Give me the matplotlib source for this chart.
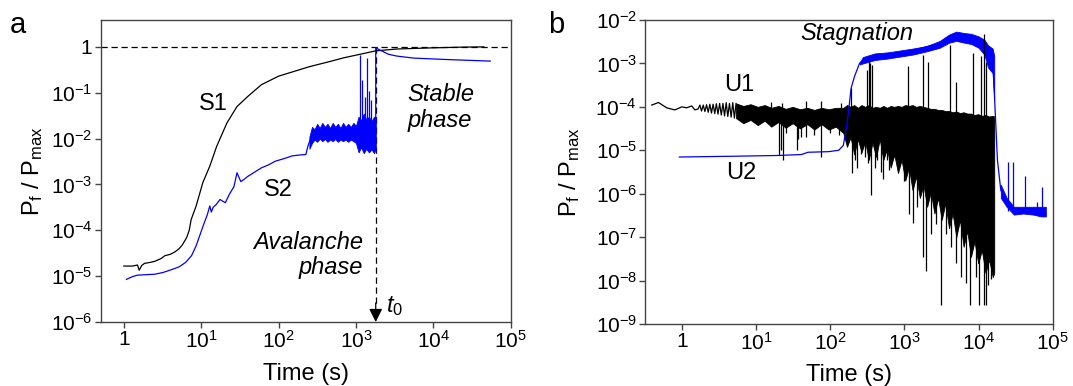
import math
import matplotlib
matplotlib.use("Agg")
import matplotlib.pyplot as plt
from matplotlib.ticker import LogLocator, NullLocator, FuncFormatter

plt.rcParams['font.family'] = ['Liberation Sans', 'DejaVu Sans']
plt.rcParams['mathtext.fontset'] = 'custom'
plt.rcParams['mathtext.rm'] = 'Liberation Sans'
plt.rcParams['mathtext.it'] = 'Liberation Sans:italic'

# ---------------- Panel a data ----------------
s1_t = [1.0, 1.3, 1.5, 1.58, 1.7, 1.85, 2.2, 2.5, 3.0, 3.4, 4.0, 4.6, 5.2, 5.7, 6.5, 7.0, 7.4,
        8.6, 10.5, 12.9, 15.8, 21.5, 29, 40, 60, 100, 250, 460, 700, 1130, 1800, 3400, 9100,
        24600, 45000]
s1_y = [1.66e-5, 1.66e-5, 1.75e-5, 1.35e-5, 1.7e-5, 1.9e-5, 2.0e-5, 2.1e-5, 2.4e-5, 2.8e-5,
        3.0e-5, 3.4e-5, 4.0e-5, 4.8e-5, 7e-5, 1.0e-4, 1.7e-4, 3.4e-4, 1.1e-3, 2.5e-3, 6.7e-3,
        0.022, 0.05, 0.083, 0.15, 0.23, 0.37, 0.48, 0.58, 0.69, 0.82, 0.9, 0.95, 0.99, 1.0]

s2_t = [1.08, 1.3, 1.5, 2.0, 2.5, 3.2, 4.2, 5.2, 6.3, 7.5, 8.6, 10.5, 12.0, 12.9, 13.5, 14.3,
        15.5, 17.5, 19, 20.5, 23, 26.5, 29, 32.5, 36, 40, 50, 60, 75, 90, 120, 150, 190, 225,
        240, 260]
s2_y = [8.5e-6, 9.8e-6, 1.05e-5, 1.08e-5, 1.1e-5, 1.2e-5, 1.4e-5, 1.6e-5, 2e-5, 2.8e-5,
        4.6e-5, 1.2e-4, 2.2e-4, 3.4e-4, 2.5e-4, 3.2e-4, 3.6e-4, 4.7e-4, 4.3e-4, 4e-4, 6e-4,
        9e-4, 1.8e-3, 1.15e-3, 1.3e-3, 1.5e-3, 1.9e-3, 2.3e-3, 2.7e-3, 3.2e-3, 3.7e-3,
        4.2e-3, 4.4e-3, 4.5e-3, 7e-3, 1.0e-2]

s2_band_t = [250, 270, 292, 315, 340, 367, 397, 428, 463, 500, 540, 583, 630, 680, 735, 793,
             857, 925, 1000, 1080, 1166, 1260, 1360, 1469, 1587, 1714, 1800]
s2_band_hi = [0.011, 0.018, 0.016, 0.021, 0.017, 0.022, 0.018, 0.021, 0.017, 0.022, 0.018,
              0.021, 0.017, 0.022, 0.018, 0.021, 0.018, 0.022, 0.019, 0.03, 0.025, 0.035,
              0.026, 0.03, 0.024, 0.03, 0.03]
s2_band_lo = [0.006, 0.008, 0.0095, 0.0085, 0.01, 0.0088, 0.0098, 0.0085, 0.0095, 0.0088,
              0.0098, 0.0085, 0.0095, 0.0088, 0.0095, 0.0085, 0.0095, 0.0088, 0.008, 0.005,
              0.0065, 0.0048, 0.006, 0.005, 0.0058, 0.0048, 0.006]

s2_spike_t = [1130, 1210, 1290, 1380, 1480, 1570]
s2_spike_y = [0.66, 0.19, 0.08, 0.56, 0.11, 0.07]

s2_tail_t = [1800, 1800, 2050, 2630, 3380, 5530, 14900, 54300]
s2_tail_y = [0.006, 0.96, 0.85, 0.69, 0.63, 0.57, 0.53, 0.49]

t0 = 1800

# ---------------- Panel b data ----------------
u1_early_t = [0.39, 0.48, 0.62, 0.80, 0.99, 1.15, 1.35, 1.49, 1.65, 1.74, 1.83, 1.93, 2.03,
              2.14, 2.25, 2.37, 2.49, 2.62, 2.76, 2.90, 3.05, 3.21, 3.38, 3.56, 3.74, 3.94,
              4.14, 4.36, 4.59, 4.83, 5.08, 5.35]
u1_early_y = [1.1e-4, 1.26e-4, 9.5e-5, 8.5e-5, 1.0e-4, 9.5e-5, 1.05e-4, 8.5e-5, 9.0e-5,
              1.1e-4, 8.0e-5, 1.1e-4, 7.8e-5, 1.12e-4, 7.5e-5, 1.15e-4, 7.2e-5, 1.15e-4,
              7.0e-5, 1.18e-4, 6.8e-5, 1.2e-4, 6.5e-5, 1.2e-4, 6.2e-5, 1.25e-4, 6.0e-5,
              1.2e-4, 5.8e-5, 1.25e-4, 5.5e-5, 1.2e-4]

u1_band_t = [5.35, 6.7, 8.4, 10.5, 13, 16, 20, 25, 31, 39, 49, 61, 76, 95, 119, 150,
             168, 188, 210, 235, 264, 295, 331, 370, 415, 465, 520, 583, 653, 731, 819, 917,
             1027, 1150, 1288, 1443, 1616, 1810, 2027, 2270, 2543, 2848, 3190, 3572, 4001,
             4481, 5019, 5621, 6296, 7051, 7897, 8845, 9906, 11095, 12426, 13917, 15587,
             16300]
u1_band_hi = [1.2e-4, 1.05e-4, 1.15e-4, 1.0e-4, 1.1e-4, 9.5e-5, 1.05e-4, 9e-5, 1.0e-4,
              8.8e-5, 9.5e-5, 8.5e-5, 9.5e-5, 8.8e-5, 9.5e-5, 9.5e-5,
              1.1e-4, 1.0e-4, 1.1e-4, 9.5e-5, 1.1e-4, 1.0e-4, 1.1e-4, 9.5e-5, 1.0e-4, 9.5e-5,
              1.05e-4, 9.5e-5, 1.05e-4, 1.0e-4, 1.05e-4, 1.0e-4, 1.1e-4, 1.05e-4, 1.1e-4,
              1.0e-4, 1.05e-4, 1.0e-4, 9.5e-5, 9e-5, 9e-5, 8.5e-5, 8.5e-5, 8e-5, 8e-5,
              7.5e-5, 7.8e-5, 7.2e-5, 7.5e-5, 7e-5, 7e-5, 6.5e-5, 6.8e-5, 6.2e-5, 6.5e-5,
              6e-5, 6.2e-5, 6e-5]
u1_band_lo = [5.5e-5, 4.2e-5, 5e-5, 3.8e-5, 4.8e-5, 3.5e-5, 4.5e-5, 3.3e-5, 4.2e-5, 3.2e-5,
              4e-5, 3e-5, 4e-5, 3e-5, 3.5e-5, 2.5e-5,
              1.2e-5, 2.0e-5, 8e-6, 1.8e-5, 9e-6, 1.6e-5, 6e-6, 1.5e-5, 7e-6, 1.8e-5, 6e-6,
              1.1e-5, 4e-6, 8e-6, 3e-6, 6e-6, 2e-6, 4e-6, 1.2e-6, 2.5e-6, 8e-7, 1.6e-6, 5e-7,
              1.1e-6, 3.5e-7, 8e-7, 2.5e-7, 6e-7, 1.6e-7, 3.5e-7, 1.0e-7, 2.5e-7, 6e-8,
              1.4e-7, 3.5e-8, 8e-8, 2.5e-8, 5e-8, 1.5e-8, 3e-8, 1.2e-8, 1.5e-8]

u1_down_t = [20.6, 21.5, 23, 25, 35, 36.5, 40, 47, 60, 76, 100, 130, 170, 198, 215, 232, 260,
             290, 320, 353, 400, 430, 485, 521, 578, 628, 733, 857, 1000, 1170, 1320, 1500,
             1760, 1960, 2290, 2700, 3120, 3640, 4250, 4960, 5790, 6760, 7650, 9220, 10200,
             11900, 12800, 13500, 14700, 15500]
u1_down_y = [7.8e-6, 1e-5, 6e-6, 2.5e-5, 1e-5, 1.8e-5, 2e-5, 2e-5, 2.2e-5, 7e-6, 2.5e-5,
             2.2e-5, 1.5e-5, 3e-6, 6e-6, 3.9e-6, 8e-6, 7e-6, 5e-6, 9.3e-7, 4e-6, 6e-6, 3.2e-6,
             2.2e-6, 6e-6, 3.5e-6, 7e-6, 8.5e-6, 2e-6, 3.5e-7, 2.1e-7, 5e-7, 3.5e-8, 1.7e-8,
             1.2e-7, 2e-7, 2.75e-9, 1.2e-7, 6e-8, 2.5e-8, 1.2e-8, 8.7e-9, 2.75e-9, 1.2e-8,
             2.75e-9, 2.75e-9, 2.75e-9, 8e-9, 1.1e-8, 2e-8]

u1_up_t = [16, 22, 47, 76, 140, 188, 310, 330, 345, 370, 1130, 1780, 2100, 4120, 4960, 8300,
           10700, 11900, 12600]
u1_up_y = [1.3e-4, 1.25e-4, 1.4e-4, 1.4e-4, 1.2e-4, 2.7e-4, 7e-4, 1.3e-3, 1.0e-3, 9e-4,
           8.9e-4, 1.56e-3, 1.1e-3, 2.65e-3, 3.8e-4, 1.7e-3, 1.5e-3, 4.8e-3, 1.1e-3]

u2_t = [0.92, 5, 20, 41, 50, 95, 130, 150, 160, 173, 191, 212, 248, 275, 460, 1290, 2950,
        4960, 9220, 13200, 15500, 16600, 18000, 20000, 24600, 30200, 48000, 81000]
u2_y = [7e-6, 7.3e-6, 7.6e-6, 8e-6, 9e-6, 9.3e-6, 1.0e-5, 1.3e-5, 2.5e-5, 5.9e-5, 2.7e-4,
        5e-4, 1e-3, 1.2e-3, 1.43e-3, 2e-3, 2.9e-3, 4.5e-3, 3.8e-3, 2.2e-3, 1.5e-3, 1.2e-4,
        6e-6, 1.2e-6, 6.6e-7, 4.3e-7, 4.0e-7, 3.5e-7]

u2_band_t = [250, 275, 400, 600, 900, 1300, 2000, 3000, 4000, 5000, 6500, 8000, 10000, 12000,
             13500, 15500, 16300]
u2_band_hi = [1.05e-3, 1.4e-3, 1.7e-3, 1.8e-3, 2.0e-3, 2.2e-3, 2.5e-3, 3.3e-3, 4.6e-3,
              5.4e-3, 5.0e-3, 4.8e-3, 4.2e-3, 3.5e-3, 2.6e-3, 2.2e-3, 1.5e-3]
u2_band_lo = [9.5e-4, 1.0e-3, 1.2e-3, 1.3e-3, 1.45e-3, 1.6e-3, 1.9e-3, 2.3e-3, 3.0e-3,
              3.3e-3, 3.0e-3, 2.8e-3, 2.3e-3, 1.6e-3, 8e-4, 6e-4, 1.5e-4]

u2_tail_t = [20000, 24000, 30000, 40000, 55000, 70000, 81000]
u2_tail_hi = [1.6e-6, 8e-7, 5e-7, 5e-7, 5e-7, 5e-7, 5e-7]
u2_tail_lo = [8e-7, 5e-7, 3.3e-7, 3.5e-7, 3.3e-7, 3.0e-7, 3.0e-7]

u2_spike_t = [25100, 29600, 42700, 62400, 71000]
u2_spike_y = [5.5e-6, 5.5e-6, 2.5e-6, 6.6e-7, 1.45e-6]

BLUE = '#0000ff'
LW = 0.9


def fmt(v, pos):
    if abs(v - 1) < 1e-9:
        return '1'
    e = int(round(math.log10(v)))
    return r'$\mathregular{10^{%d}}$' % e


def style_axes(ax):
    ax.set_xscale('log')
    ax.set_yscale('log')
    for ax_ in (ax.xaxis, ax.yaxis):
        ax_.set_major_locator(LogLocator(base=10, numticks=30))
        ax_.set_minor_locator(NullLocator())
        ax_.set_major_formatter(FuncFormatter(fmt))
    for s in ax.spines.values():
        s.set_color('#444444')
        s.set_linewidth(1.0)
    ax.tick_params(axis='both', which='major', direction='out', length=4, width=1,
                   color='#444444', labelsize=15, pad=2)
    ax.tick_params(top=False, right=False)


fig = plt.figure(figsize=(10.73, 3.86), dpi=100)

# ---------------- Panel a ----------------
axa = fig.add_axes([0.0937, 0.1658, 0.3823, 0.7824])
style_axes(axa)
axa.set_xlim(0.5, 1e5)
axa.set_ylim(1e-6, 3.86)
axa.axhline(1, color='k', ls=(0, (5, 3)), lw=0.9, zorder=1)
axa.plot(s1_t, s1_y, color='k', lw=LW, zorder=2)
axa.plot(s2_t, s2_y, color=BLUE, lw=LW, zorder=3)
axa.fill_between(s2_band_t, s2_band_lo, s2_band_hi, color=BLUE, lw=0.6, zorder=3)
axa.vlines(s2_spike_t, 0.006, s2_spike_y, color=BLUE, lw=LW, zorder=3)
axa.plot(s2_tail_t, s2_tail_y, color=BLUE, lw=LW, zorder=3)
axa.plot([t0, t0], [1, 2.4e-6], color='k', ls=(0, (5, 3)), lw=0.9, zorder=1)
axa.annotate('', xy=(t0, 1e-6), xytext=(t0, 2.6e-6),
             arrowprops=dict(arrowstyle='-|>', color='k', lw=0.9, mutation_scale=20,
                             shrinkA=0, shrinkB=0), zorder=4)
axa.text(14.2, 0.057, 'S1', fontsize=17, ha='center', va='center')
axa.text(98, 7.6e-4, 'S2', fontsize=17, ha='center', va='center')
axa.text(4580, 0.048, 'Stable\nphase', fontsize=17, style='italic', ha='left', va='center',
         linespacing=1.15)
axa.text(1235, 2.9e-5, 'Avalanche\nphase', fontsize=17, style='italic', ha='right',
         va='center', multialignment='right', linespacing=1.15)
axa.text(2450, 2.2e-6, r'$t_0$', fontsize=17, ha='left', va='center')
axa.set_xlabel('Time (s)', fontsize=17)
axa.set_ylabel(r'P$_\mathregular{f}$ / P$_\mathregular{max}$', fontsize=17)
axa.xaxis.set_label_coords(0.5, -0.135)
axa.yaxis.set_label_coords(-0.135, 0.5)

# ---------------- Panel b ----------------
axb = fig.add_axes([0.6015, 0.1606, 0.3795, 0.7876])
style_axes(axb)
axb.set_xlim(0.32, 1e5)
axb.set_ylim(1e-9, 1e-2)
axb.plot(u1_early_t, u1_early_y, color='k', lw=LW, zorder=2)
axb.fill_between(u1_band_t, u1_band_lo, u1_band_hi, color='k', lw=0.6, zorder=2)
axb.vlines(u1_down_t, u1_down_y, 5e-5, color='k', lw=LW, zorder=2)
axb.vlines(u1_up_t, 6e-5, u1_up_y, color='k', lw=LW, zorder=4)
axb.plot(u2_t, u2_y, color=BLUE, lw=LW, zorder=3)
axb.fill_between(u2_band_t, u2_band_lo, u2_band_hi, color=BLUE, lw=0.6, zorder=3)
axb.fill_between(u2_tail_t, u2_tail_lo, u2_tail_hi, color=BLUE, lw=0.6, zorder=3)
axb.vlines(u2_spike_t, 4e-7, u2_spike_y, color=BLUE, lw=LW, zorder=3)
axb.text(226, 4.8e-3, 'Stagnation', fontsize=17, style='italic', ha='center', va='center')
axb.text(6.0, 3.2e-4, 'U1', fontsize=17, ha='center', va='center')
axb.text(6.2, 3.0e-6, 'U2', fontsize=17, ha='center', va='center')
axb.set_xlabel('Time (s)', fontsize=17)
axb.set_ylabel(r'P$_\mathregular{f}$ / P$_\mathregular{max}$', fontsize=17)
axb.xaxis.set_label_coords(0.5, -0.13)
axb.yaxis.set_label_coords(-0.156, 0.5)

fig.text(0.0093, 0.9145, 'a', fontsize=21, ha='left', va='baseline')
fig.text(0.5107, 0.9145, 'b', fontsize=21, ha='left', va='baseline')

fig.savefig('out.png', dpi=100)
